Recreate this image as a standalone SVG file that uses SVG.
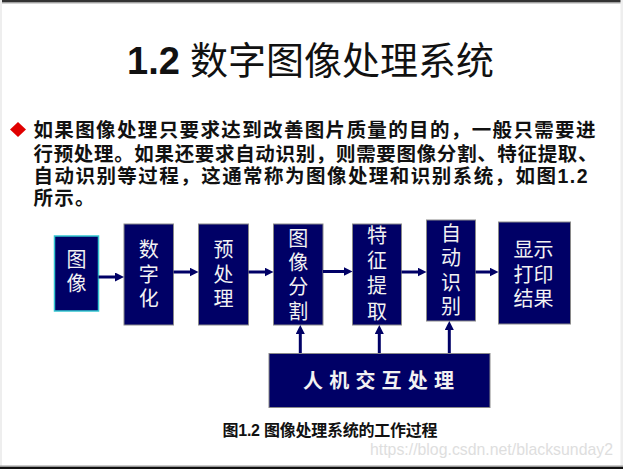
<svg xmlns="http://www.w3.org/2000/svg" width="623" height="469" viewBox="0 0 623 469">
<style>
.box{fill:#000066;stroke:#8a8a8a;stroke-width:1}
.bt{font-family:"Noto Sans CJK SC",sans-serif;font-size:20px;fill:#f2f2f2;text-anchor:middle}
.body{font-family:"Liberation Sans","Noto Sans CJK SC",sans-serif;font-size:19.5px;font-weight:bold;fill:#111}
.arr{stroke:#000066;stroke-width:3;fill:none}
</style>
<defs>
<marker id="ah" viewBox="0 0 9 9" markerWidth="9" markerHeight="9" refX="3" refY="4.5" orient="auto" markerUnits="userSpaceOnUse">
<path d="M0,0 L9,4.5 L0,9 z" fill="#000066"/>
</marker>
</defs>
<rect x="0" y="0" width="623" height="469" fill="#ffffff"/>
<rect x="0" y="0" width="623" height="2.5" fill="#333333"/>
<rect x="0" y="2.5" width="623" height="1" fill="#aaaaaa"/>
<rect x="0" y="0" width="2" height="469" fill="#eeeeee"/>
<rect x="620.5" y="0" width="2.5" height="469" fill="#eeeeee"/>
<rect x="0" y="465.5" width="623" height="1.5" fill="#999999"/>
<rect x="0" y="467" width="623" height="2" fill="#111111"/>

<g id="title">
<text y="74" font-size="38"><tspan x="127" font-family="Liberation Sans,sans-serif" font-weight="bold" fill="#111">1.2</tspan><tspan x="190" font-family="Noto Sans CJK SC,sans-serif" fill="#111">数字图像处理系统</tspan></text>
</g>

<g id="paragraph">
<path d="M18,122 L26,129.5 L18,137 L10,129.5 z" fill="#e00000"/>
<text class="body" x="33.5" y="137" textLength="562" lengthAdjust="spacing">如果图像处理只要求达到改善图片质量的目的，一般只需要进</text>
<text class="body" x="33.5" y="160.5" textLength="564" lengthAdjust="spacing">行预处理。如果还要求自动识别，则需要图像分割、特征提取、</text>
<text class="body" x="33.5" y="183" textLength="554" lengthAdjust="spacing">自动识别等过程，这通常称为图像处理和识别系统，如图1.2</text>
<text class="body" x="33.5" y="205" textLength="61" lengthAdjust="spacing">所示。</text>
</g>

<g id="n1">
<rect x="54.5" y="236" width="44" height="75" fill="#000066" stroke="#33c6d0" stroke-width="1.5"/>
<text class="bt"><tspan x="76.5" y="267">图</tspan><tspan x="76.5" y="291">像</tspan></text>
</g>
<g id="n2">
<rect class="box" x="124" y="224" width="49.5" height="101"/>
<text class="bt"><tspan x="148.7" y="257">数</tspan><tspan x="148.7" y="281.5">字</tspan><tspan x="148.7" y="306">化</tspan></text>
</g>
<g id="n3">
<rect class="box" x="198.5" y="224" width="50" height="101"/>
<text class="bt"><tspan x="223.5" y="257">预</tspan><tspan x="223.5" y="281.5">处</tspan><tspan x="223.5" y="306">理</tspan></text>
</g>
<g id="n4">
<rect class="box" x="273.5" y="224" width="49.5" height="101"/>
<text class="bt"><tspan x="298.2" y="245.5">图</tspan><tspan x="298.2" y="269.8">像</tspan><tspan x="298.2" y="294">分</tspan><tspan x="298.2" y="318.5">割</tspan></text>
</g>
<g id="n5">
<rect class="box" x="352.5" y="224" width="49" height="101"/>
<text class="bt"><tspan x="377" y="242.5">特</tspan><tspan x="377" y="268">征</tspan><tspan x="377" y="293">提</tspan><tspan x="377" y="318.5">取</tspan></text>
</g>
<g id="n6">
<rect class="box" x="426.5" y="220" width="49" height="101"/>
<text class="bt"><tspan x="451" y="241">自</tspan><tspan x="451" y="265.3">动</tspan><tspan x="451" y="289.6">识</tspan><tspan x="451" y="314">别</tspan></text>
</g>
<g id="n7">
<rect class="box" x="498.5" y="222" width="72" height="102"/>
<text class="bt"><tspan x="533.5" y="257">显示</tspan><tspan x="533.5" y="281.5">打印</tspan><tspan x="533.5" y="306">结果</tspan></text>
</g>
<g id="n8">
<rect class="box" x="269" y="353.5" width="221" height="54"/>
<text x="303" y="388" font-family="Noto Sans CJK SC,sans-serif" font-size="20" font-weight="bold" fill="#f2f2f2" letter-spacing="6.2">人机交互处理</text>
</g>

<g id="connectors">
<line class="arr" x1="98.5" y1="277" x2="118" y2="277" marker-end="url(#ah)"/>
<line class="arr" x1="173.5" y1="272" x2="192.5" y2="272" marker-end="url(#ah)"/>
<line class="arr" x1="248.5" y1="272" x2="267.5" y2="272" marker-end="url(#ah)"/>
<line class="arr" x1="323" y1="271.5" x2="346.5" y2="271.5" marker-end="url(#ah)"/>
<line class="arr" x1="401.5" y1="272" x2="420.5" y2="272" marker-end="url(#ah)"/>
<line class="arr" x1="475.5" y1="272" x2="492.5" y2="272" marker-end="url(#ah)"/>
<line class="arr" x1="300.3" y1="353" x2="300.3" y2="331" marker-end="url(#ah)"/>
<line class="arr" x1="379.3" y1="353" x2="379.3" y2="331" marker-end="url(#ah)"/>
<line class="arr" x1="449.3" y1="353" x2="449.3" y2="327" marker-end="url(#ah)"/>
</g>

<g id="caption">
<text x="222.5" y="436" font-family="Liberation Sans,Noto Sans CJK SC,sans-serif" font-size="16" font-weight="bold" fill="#111" textLength="215" lengthAdjust="spacing">图1.2 图像处理系统的工作过程</text>
</g>
<text x="370" y="455" font-family="Liberation Sans,sans-serif" font-size="17" fill="#dedede" textLength="243" lengthAdjust="spacingAndGlyphs">https://blog.csdn.net/blacksunday2</text>
</svg>
